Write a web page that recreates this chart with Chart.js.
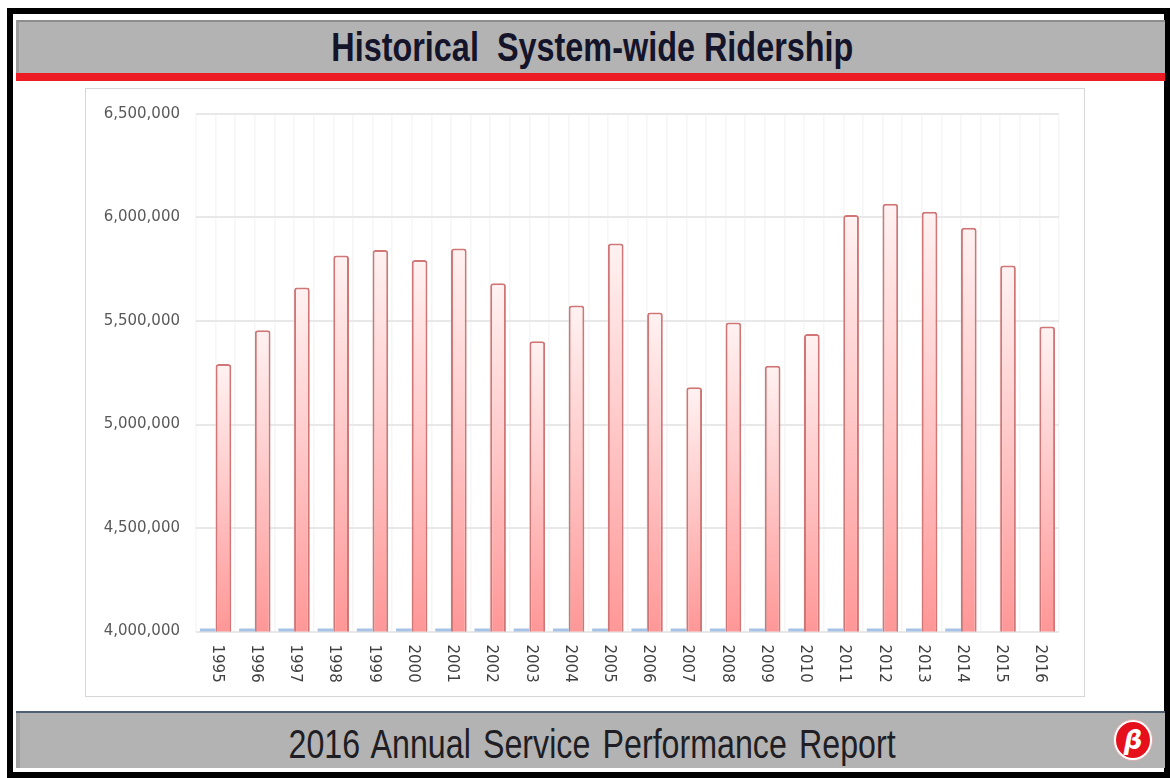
<!DOCTYPE html>
<html>
<head>
<meta charset="utf-8">
<script src="https://cdn.jsdelivr.net/npm/chart.js@4.4.1/dist/chart.umd.min.js"></script>
<style>
  html, body { margin:0; padding:0; background:#fff; width:1170px; height:778px; overflow:hidden; }
  #frame { position:absolute; left:7px; top:8px; width:1163px; height:770px; box-sizing:border-box; border:6px solid #000; background:#fff; }
  #header { position:absolute; left:16px; top:20px; width:1149px; height:53px; box-sizing:border-box; background:#b3b3b3; border-top:2px solid #8e8e8e; border-left:3px solid #9c9c9c; }
  #redband { position:absolute; left:16px; top:73px; width:1149px; height:8px; background:#ed1c24; }
  #title { position:absolute; left:0; top:0; width:100%; height:100%; display:flex; align-items:center; justify-content:center; }
  #title span { font-family:"Liberation Sans", Arial, sans-serif; font-weight:bold; font-size:40px; color:#14142a; transform:scaleX(0.81); white-space:nowrap; display:inline-block; }
  #box { position:absolute; left:85px; top:88px; width:1000px; height:609px; box-sizing:border-box; border:1px solid #d6d6d6; background:#fff; }
  #chartwrap { position:absolute; left:86px; top:89px; width:998px; height:607px; }
  #footline { position:absolute; left:16px; top:711px; width:1149px; height:2px; background:#4f6170; }
  #footer { position:absolute; left:16px; top:713px; width:1149px; height:55px; box-sizing:border-box; background:#b3b3b3; border-left:4px solid #a0a0a0; }
  #foottext { position:absolute; left:0; top:4px; width:100%; height:100%; display:flex; align-items:center; justify-content:center; }
  #foottext span { font-family:"Liberation Sans", Arial, sans-serif; font-size:40px; color:#1e1e24; transform:scaleX(0.805); white-space:nowrap; display:inline-block; word-spacing:4px; }
  #logo { position:absolute; left:1114px; top:720px; width:38px; height:40px; border-radius:50%; background:#e5101b; box-sizing:border-box; border:2px solid #fff; box-shadow:0 0 0 1px #d9b0b0; display:flex; align-items:center; justify-content:center; }
  #logo span { font-family:"DejaVu Sans", sans-serif; font-style:italic; font-weight:bold; color:#fff; font-size:26px; line-height:1; }
</style>
</head>
<body>
<div id="frame"></div>
<div id="header"><div id="title"><span>Historical&nbsp; System-wide Ridership</span></div></div>
<div id="redband"></div>
<div id="box"></div>
<div id="chartwrap"><canvas id="c" width="998" height="607"></canvas></div>
<div id="footline"></div>
<div id="footer"><div id="foottext"><span>2016 Annual Service Performance Report</span></div></div>
<div id="logo"><span>β</span></div>
<script>
const years = ['1995','1996','1997','1998','1999','2000','2001','2002','2003','2004','2005','2006','2007','2008','2009','2010','2011','2012','2013','2014','2015','2016'];
const ridership = [5292000, 5455000, 5662000, 5816000, 5843000, 5795000, 5850000, 5682000, 5402000, 5575000, 5875000, 5541000, 5180000, 5493000, 5284000, 5437000, 6012000, 6066000, 6028000, 5951000, 5768000, 5474000];
const secondSeries = [4014000, 4014000, 4014000, 4014000, 4014000, 4014000, 4014000, 4014000, 4014000, 4014000, 4014000, 4014000, 4014000, 4014000, 4014000, 4014000, 4014000, 4014000, 4014000, 4014000, null, null];
const yMin = 4000000, yMax = 6500000, yStep = 500000;
const gridSlots = new Array(years.length * 2).fill('');

function barGradient(ctx) {
  const chart = ctx.chart;
  const area = chart.chartArea;
  if (!area || ctx.type !== 'data') return '#fbb';
  const yScale = chart.scales.y;
  const top = yScale.getPixelForValue(ctx.raw);
  const bottom = yScale.getPixelForValue(yMin);
  const g = chart.ctx.createLinearGradient(0, top, 0, bottom);
  g.addColorStop(0, '#fff2f2');
  g.addColorStop(0.45, '#ffcaca');
  g.addColorStop(1, '#ff9797');
  return g;
}

const rotatedLabels = {
  id: 'rotatedLabels',
  afterDraw(chart) {
    const xs = chart.scales.x;
    const c = chart.ctx;
    c.save();
    c.font = '15px "DejaVu Sans", sans-serif';
    c.fillStyle = '#404040';
    c.textAlign = 'left';
    c.textBaseline = 'middle';
    years.forEach((lab, i) => {
      const x = xs.getPixelForValue(i);
      c.save();
      c.translate(x + 1, chart.chartArea.bottom + 13);
      c.rotate(Math.PI / 2);
      c.fillText(lab, 0, 0);
      c.restore();
    });
    c.restore();
  }
};

new Chart(document.getElementById('c'), {
  type: 'bar',
  data: {
    labels: years,
    datasets: [
      { label: 'Series 1', data: secondSeries, xAxisID: 'x', backgroundColor: '#a6c2e4', borderWidth: 0 },
      { label: 'Ridership', data: ridership, xAxisID: 'x', backgroundColor: barGradient, borderColor: '#d07676', borderWidth: 2, borderSkipped: 'bottom', borderRadius: 3 }
    ]
  },
  options: {
    responsive: false,
    animation: false,
    events: [],
    layout: { padding: { top: 23.5, right: 25, left: 0, bottom: 0 } },
    plugins: { legend: { display: false }, tooltip: { enabled: false }, title: { display: false } },
    datasets: { bar: { categoryPercentage: 0.8, barPercentage: 1.0 } },
    scales: {
      x: {
        type: 'category',
        position: 'bottom',
        offset: true,
        grid: { display: false },
        border: { display: false },
        ticks: { display: false },
        afterFit: (s) => { s.height = 64.5; }
      },
      x2: {
        type: 'category',
        labels: gridSlots,
        position: 'bottom',
        offset: true,
        grid: { display: true, offset: true, color: '#f6f6f6', lineWidth: 1.5, drawTicks: false },
        border: { display: false },
        ticks: { display: false, autoSkip: false },
        afterFit: (s) => { s.height = 0; }
      },
      y: {
        min: yMin,
        max: yMax,
        grid: { color: '#e8e8e8', lineWidth: 2, drawTicks: false },
        border: { display: false },
        ticks: {
          stepSize: yStep,
          padding: 16,
          color: '#595959',
          font: { family: '"DejaVu Sans", sans-serif', size: 15 },
          callback: (v) => Number(v).toLocaleString('en-US')
        },
        afterFit: (s) => { s.width = 110; }
      }
    }
  },
  plugins: [rotatedLabels]
});
</script>
</body>
</html>
